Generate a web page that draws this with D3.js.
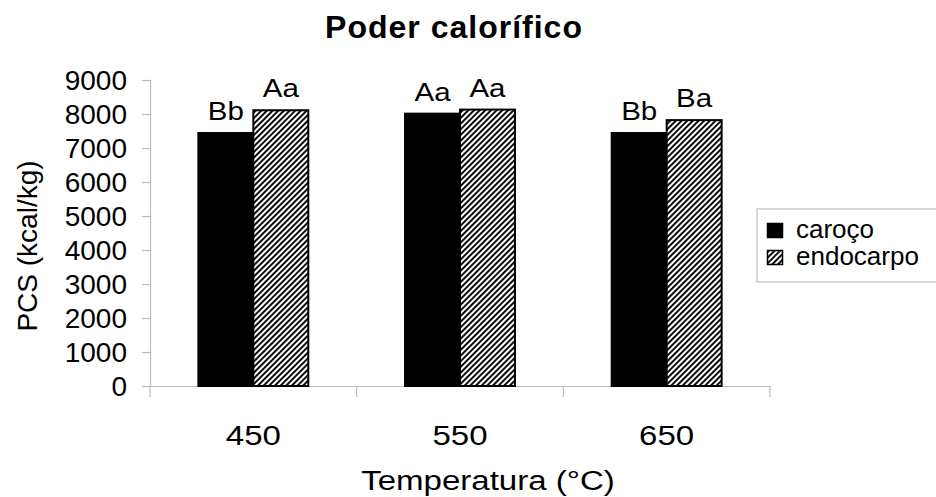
<!DOCTYPE html>
<html><head><meta charset="utf-8">
<script src="https://cdn.jsdelivr.net/npm/d3@7"></script>
<style>
html,body{margin:0;padding:0;background:#fff;}
svg text{font-family:"Liberation Sans",Arial,sans-serif;fill:#000;}
</style></head>
<body>
<svg id="chart" width="936" height="497"></svg>
<script>
const categories = ["450", "550", "650"];
const seriesNames = ["caroço", "endocarpo"];
const carocoValues = [7440, 8010, 7440];
const endocarpoValues = [8110, 8130, 7820];
const carocoLabels = ["Bb", "Aa", "Bb"];
const endocarpoLabels = ["Aa", "Aa", "Ba"];
const yTicks = [0, 1000, 2000, 3000, 4000, 5000, 6000, 7000, 8000, 9000];

const svg = d3.select("#chart");
const defs = svg.append("defs");
const pat = defs.append("pattern").attr("id", "hatch")
  .attr("patternUnits", "userSpaceOnUse").attr("width", 4).attr("height", 4)
  .attr("patternTransform", "rotate(45)");
pat.append("rect").attr("width", 4).attr("height", 4).attr("fill", "#fff");
pat.append("rect").attr("width", 1.9).attr("height", 4).attr("fill", "#000");

const fills = ["#000", "url(#hatch)"];
const values = [carocoValues, endocarpoValues];
const labels = [carocoLabels, endocarpoLabels];
const stretch = 1.18;

const x0 = d3.scaleBand().domain(categories).range([150, 770]).paddingInner(0).paddingOuter(0);
const x1 = d3.scaleBand().domain(seriesNames).range([0, x0.bandwidth()]).paddingInner(0).paddingOuter(0.88);
const y = d3.scaleLinear().domain([0, 9000]).range([386, 80]);

const axisColor = "#bdbdbd";

// Y axis
const yAxis = svg.append("g").attr("transform", "translate(150,0)")
  .call(d3.axisLeft(y).tickValues(yTicks).tickSize(8).tickPadding(15).tickFormat(d3.format("d")));
yAxis.select(".domain").attr("stroke", axisColor).attr("stroke-width", 1.2);
yAxis.selectAll(".tick line").attr("stroke", axisColor).attr("stroke-width", 1.2);
yAxis.selectAll(".tick text").attr("font-size", 28).attr("font-family", "Liberation Sans, Arial, sans-serif").attr("dy", "0.33em");

// X axis
const xAxis = svg.append("g").attr("transform", "translate(0,386)")
  .call(d3.axisBottom(x0).tickSize(0).tickPadding(39));
xAxis.select(".domain").attr("stroke", axisColor).attr("stroke-width", 1.2);
xAxis.selectAll(".tick text").attr("font-size", 28)
  .attr("font-family", "Liberation Sans, Arial, sans-serif")
  .attr("transform", `scale(${stretch},1)`);
// category separator ticks
const seps = [x0(categories[0])].concat(categories.map(c => x0(c) + x0.bandwidth()));
svg.append("g").selectAll("line").data(seps).join("line")
  .attr("x1", d => d).attr("x2", d => d).attr("y1", 386).attr("y2", 397)
  .attr("stroke", axisColor).attr("stroke-width", 1.2);

// Bars
const groups = svg.append("g").selectAll("g").data(categories).join("g")
  .attr("transform", d => `translate(${x0(d)},0)`);
seriesNames.forEach((s, si) => {
  groups.append("rect")
    .attr("x", x1(s))
    .attr("width", x1.bandwidth())
    .attr("y", (d, i) => y(values[si][i]))
    .attr("height", (d, i) => y(0) - y(values[si][i]))
    .attr("fill", fills[si]).attr("stroke", "#000").attr("stroke-width", 2);
  groups.append("text")
    .attr("transform", (d, i) => `translate(${x1(s) + x1.bandwidth() / 2},${y(values[si][i]) - 13}) scale(${stretch},1)`)
    .attr("text-anchor", "middle").attr("font-size", 25)
    .text((d, i) => labels[si][i]);
});

// Title
svg.append("text").attr("x", 454).attr("y", 38).attr("text-anchor", "middle")
  .attr("font-size", 32).attr("font-weight", "bold").attr("letter-spacing", 1)
  .text("Poder calorífico");

// Axis titles
svg.append("text").attr("transform", `translate(488,490) scale(${stretch},1)`).attr("text-anchor", "middle")
  .attr("font-size", 28).text("Temperatura (°C)");
svg.append("text").attr("transform", "translate(37,246) rotate(-90)").attr("text-anchor", "middle")
  .attr("font-size", 28).text("PCS (kcal/kg)");

// Legend
const lg = svg.append("g");
lg.append("rect").attr("x", 757).attr("y", 209).attr("width", 200).attr("height", 73)
  .attr("fill", "#fff").attr("stroke", axisColor).attr("stroke-width", 1.2);
seriesNames.forEach((s, i) => {
  lg.append("rect").attr("x", 767.5).attr("y", 223.5 + i * 27).attr("width", 15).attr("height", 14)
    .attr("fill", fills[i]).attr("stroke", "#000").attr("stroke-width", 1.5);
  lg.append("text").attr("x", 796).attr("y", 238 + i * 27).attr("font-size", 26)
    .attr("transform", "").text(s);
});
</script>
</body></html>
